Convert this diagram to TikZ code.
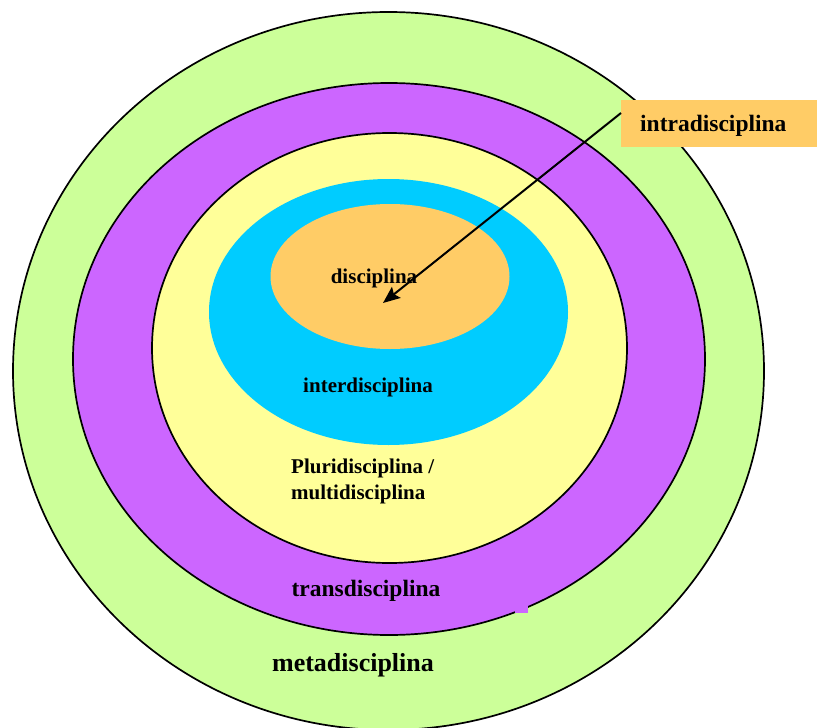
\documentclass[tikz,border=0pt]{standalone}
\usepackage{fontspec}
\setmainfont{Liberation Serif}
\usetikzlibrary{shapes.geometric,arrows.meta}
\definecolor{metagreen}{HTML}{CCFF99}
\definecolor{transpurple}{HTML}{CC66FF}
\definecolor{pluriyellow}{HTML}{FFFF99}
\definecolor{intercyan}{HTML}{00CCFF}
\definecolor{discorange}{HTML}{FFCC66}
\tikzset{
  ring/.style={ellipse, draw=black, line width=1.7pt, inner sep=0pt},
  core/.style={ellipse, draw=none, inner sep=0pt},
  lbl/.style={font=\bfseries, inner sep=0pt, text=black},
}
\begin{document}
\begin{tikzpicture}[x=1pt, y=-1pt]
\useasboundingbox (0,0) rectangle (817,728);
% nested fields, outermost first
\node[ring, fill=metagreen, minimum width=751pt, minimum height=718pt] (meta) at (388.5,371) {};
\node[ring, fill=transpurple, minimum width=632pt, minimum height=552pt] (trans) at (389,359) {};
\node[ring, fill=pluriyellow, minimum width=475pt, minimum height=430pt] (pluri) at (389.5,348) {};
\node[core, fill=intercyan, minimum width=359pt, minimum height=266pt] (inter) at (388.5,312) {};
\node[core, fill=discorange, minimum width=239pt, minimum height=145pt] (disc) at (390,276.5) {};
% small patch on the lower edge of the purple ring
\fill[transpurple] (515,605) rectangle (528,613);
% labels
\node[lbl, font=\fontsize{21}{24}\selectfont\bfseries, anchor=base] (tdisc) at (374,283) {disciplina};
\node[lbl, font=\fontsize{21}{24}\selectfont\bfseries, anchor=base] (tinter) at (368,392) {interdisciplina};
\node[lbl, font=\fontsize{21}{26}\selectfont\bfseries, anchor=north west, align=left] (tpluri) at (291,459) {Pluridisciplina /\\multidisciplina};
\node[lbl, font=\fontsize{23.5}{26}\selectfont\bfseries, anchor=base] (ttrans) at (366,596) {transdisciplina};
\node[lbl, font=\fontsize{26}{28}\selectfont\bfseries, anchor=base] (tmeta) at (353,671) {metadisciplina};
% outside label box and its arrow
\node[fill=discorange, minimum width=196pt, minimum height=47pt, anchor=north west, inner sep=0pt] (intra) at (621,100) {};
\node[lbl, font=\fontsize{23.5}{26}\selectfont\bfseries, anchor=base west] (tintra) at (640,131) {intradisciplina};
\coordinate (tail) at (621,113);
\coordinate (tip) at (383,303);
\draw[line width=2pt, -{Stealth[length=17pt, width=14pt, inset=3pt]}] (tail) -- (tip);
\end{tikzpicture}
\end{document}
